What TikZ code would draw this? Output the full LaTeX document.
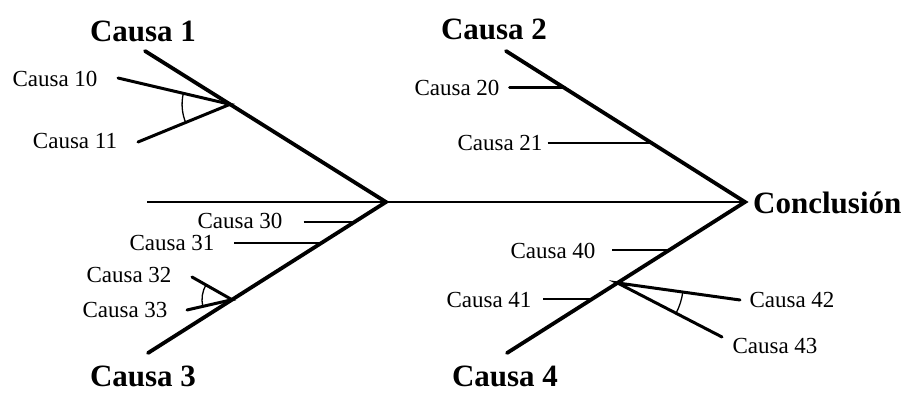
\documentclass[tikz,border=0pt]{standalone}
\usepackage{fontspec}
\setmainfont{Liberation Serif}
\usetikzlibrary{calc}
\begin{document}
\begin{tikzpicture}[x=1pt,y=-1pt,
  big/.style={font=\bfseries\fontsize{31}{31}\selectfont, inner sep=0pt},
  small/.style={font=\fontsize{23}{23}\selectfont, inner sep=0pt},
  bone/.style={line width=3.8pt, line cap=round},
  spine/.style={line width=2.6pt},
  subbone/.style={line width=3pt, line cap=round},
  thinbone/.style={line width=2pt},
  anglearc/.style={line width=1.3pt}]
\useasboundingbox (0,0) rectangle (909,393);
% main structure
\coordinate (tail) at (147,202);
\coordinate (j13) at (386,202);
\coordinate (head) at (745,202);
\coordinate (e1) at (145,51);
\coordinate (e3) at (148,353);
\coordinate (e2) at (506,51);
\coordinate (e4) at (507,353);
% labels
\node[big] (c1) at (143,31) {Causa 1};
\node[big] (c2) at (494,29) {Causa 2};
\node[big,anchor=base,text depth=0pt] (c3) at (143,386) {Causa 3};
\node[big,anchor=base,text depth=0pt] (c4) at (505,386) {Causa 4};
\node[big,anchor=west] (concl) at (753,203) {Conclusión};
\node[small] (c10) at (55,79) {Causa 10};
\node[small] (c11) at (75,141) {Causa 11};
\node[small] (c20) at (457,88) {Causa 20};
\node[small] (c21) at (500,143) {Causa 21};
\node[small] (c30) at (240,221) {Causa 30};
\node[small] (c31) at (172,243) {Causa 31};
\node[small] (c32) at (129,275) {Causa 32};
\node[small] (c33) at (125,310) {Causa 33};
\node[small] (c40) at (553,251) {Causa 40};
\node[small] (c41) at (489,300) {Causa 41};
\node[small] (c42) at (792,300) {Causa 42};
\node[small] (c43) at (775,346) {Causa 43};
% spine and bones
\draw[spine] (tail) -- (head);
\draw[bone] (e1) -- (j13) -- (e3);
\draw[bone] (e2) -- (head) -- (e4);
% junctions on bones
\coordinate (j10) at ($(e1)!0.353!(j13)$);
\coordinate (j20) at ($(e2)!0.245!(head)$);
\coordinate (j21) at ($(e2)!0.609!(head)$);
\coordinate (j30) at ($(j13)!0.132!(e3)$);
\coordinate (j31) at ($(j13)!0.2715!(e3)$);
\coordinate (j32) at ($(j13)!0.647!(e3)$);
\coordinate (j40) at ($(head)!0.318!(e4)$);
\coordinate (j41) at ($(head)!0.642!(e4)$);
\coordinate (j42) at ($(head)!0.536!(e4)$);
% free ends
\coordinate (s10) at (118,78);
\coordinate (s11) at (138,142);
\coordinate (s20) at ($(j20)+(-55,0)$);
\coordinate (s21) at ($(j21)+(-104,0)$);
\coordinate (s30) at ($(j30)+(-51,0)$);
\coordinate (s31) at ($(j31)+(-87,0)$);
\coordinate (s32) at (192,277);
\coordinate (s33) at (187,310);
\coordinate (s40) at ($(j40)+(-57,0)$);
\coordinate (s41) at ($(j41)+(-49,0)$);
\coordinate (s42) at (740,300);
\coordinate (s43) at (722,337);
% sub-causes
\draw[subbone] (s10) -- (j10) -- (s11);
\draw[subbone] (s20) -- (j20);
\draw[thinbone] (s21) -- (j21);
\draw[thinbone] (s30) -- (j30);
\draw[thinbone] (s31) -- (j31);
\draw[subbone] (s32) -- (j32) -- (s33);
\draw[thinbone] (s40) -- (j40);
\draw[thinbone] (s41) -- (j41);
\draw[subbone] (s42) -- (j42) -- (s43);
% angle arcs
\draw[anglearc] ($(j10)+(157:48)$) arc[start angle=157, end angle=192.6, radius=48];
\draw[anglearc] ($(j32)+(167.5:30)$) arc[start angle=167.5, end angle=210, radius=30];
\draw[anglearc] ($(j42)+(7.9:66)$) arc[start angle=7.9, end angle=27.2, radius=66];
\end{tikzpicture}
\end{document}
